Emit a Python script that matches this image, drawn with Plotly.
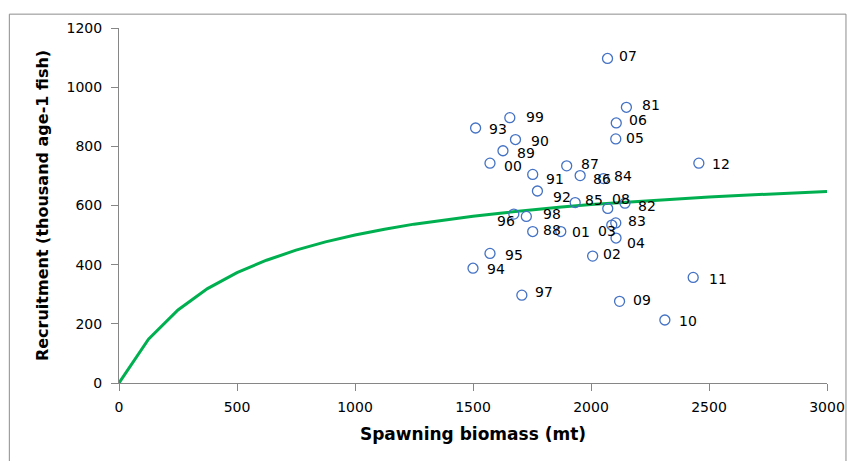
import plotly.graph_objects as go

# Observed stock-recruitment points (year labels)
years = ["81","82","83","84","85","86","87","88","89","90","91","92","93","94","95","96",
         "97","98","99","00","01","02","03","04","05","06","07","08","09","10","11","12"]
biomass = [2150,2144,2105,2053,1933,1954,1897,1753,1627,1680,1753,1773,1511,1500,1572,1673,
           1707,1726,1656,1572,1872,2007,2088,2106,2105,2107,2070,2071,2121,2313,2433,2457]
recruits = [932,608,541,691,610,701,734,512,785,823,705,649,862,388,438,571,
            297,563,897,743,512,429,534,490,825,879,1097,590,276,213,357,743]

# Label offsets in screen pixels (dx right, dy down)
label_dx = [25,22,21,19,19,22,23,19,23,25,22,25,22,23,24,-8,
            22,26,25,23,20,19,-5,20,19,22,20,13,22,23,25,22]
label_dy = [-2,3,-2,-3,-3,3,-2,-2,2,1,5,6,1,1,2,7,
            -3,-2,-1,3,0,-2,6,5,-1,-3,-2,-9,-1,1,2,1]

# Fitted curve
curve_s = [0,125,250,375,500,625,750,875,1000,1125,1250,1375,1500,1625,1750,1875,
           2000,2125,2250,2375,2500,2625,2750,2875,3000]
curve_r = [0,148,247,319,373,415,449,477,500,520,537,551,564,575,586,595,
           603,610,617,623,629,634,639,643,647]

fig = go.Figure()
fig.add_trace(go.Scatter(x=curve_s, y=curve_r, mode="lines",
                         line=dict(color="#00B050", width=3), showlegend=False,
                         hoverinfo="skip"))
fig.add_trace(go.Scatter(x=biomass, y=recruits, mode="markers",
                         marker=dict(symbol="circle-open", size=10,
                                     line=dict(color="#4472C4", width=1.3),
                                     color="#4472C4"),
                         text=years, showlegend=False))

for yr, xv, yv, dx, dy in zip(years, biomass, recruits, label_dx, label_dy):
    fig.add_annotation(x=xv, y=yv, text=yr, showarrow=False,
                       xshift=dx, yshift=-dy,
                       font=dict(family="DejaVu Sans", size=14, color="#000000"))

axis_font = dict(family="DejaVu Sans", size=14, color="#000000")
fig.update_xaxes(range=[0, 3000], dtick=500, showgrid=False, zeroline=False,
                 showline=True, linecolor="#868686", linewidth=1,
                 ticks="outside", ticklen=7, tickcolor="#868686",
                 tickfont=axis_font, ticklabelstandoff=4,
                 title=dict(text="<b>Spawning biomass (mt)</b>", standoff=14,
                            font=dict(family="DejaVu Sans", size=17, color="#000000")))
fig.update_yaxes(range=[0, 1200], dtick=200, showgrid=False, zeroline=False,
                 showline=True, linecolor="#868686", linewidth=1,
                 ticks="outside", ticklen=7, tickcolor="#868686",
                 tickfont=axis_font, ticklabelstandoff=6,
                 title=dict(text="<b>Recruitment (thousand age-1 fish)</b>", standoff=13,
                            font=dict(family="DejaVu Sans", size=16, color="#000000")))

fig.add_shape(type="rect", xref="paper", yref="paper",
              x0=-0.1549, x1=1.0268, y0=-0.3, y1=1.039,
              line=dict(color="#8c8c8c", width=1), fillcolor="rgba(0,0,0,0)")

fig.update_layout(width=849, height=453,
                  margin=dict(l=111, r=28, t=15, b=78),
                  paper_bgcolor="white", plot_bgcolor="white")

fig.write_html("out.html")
